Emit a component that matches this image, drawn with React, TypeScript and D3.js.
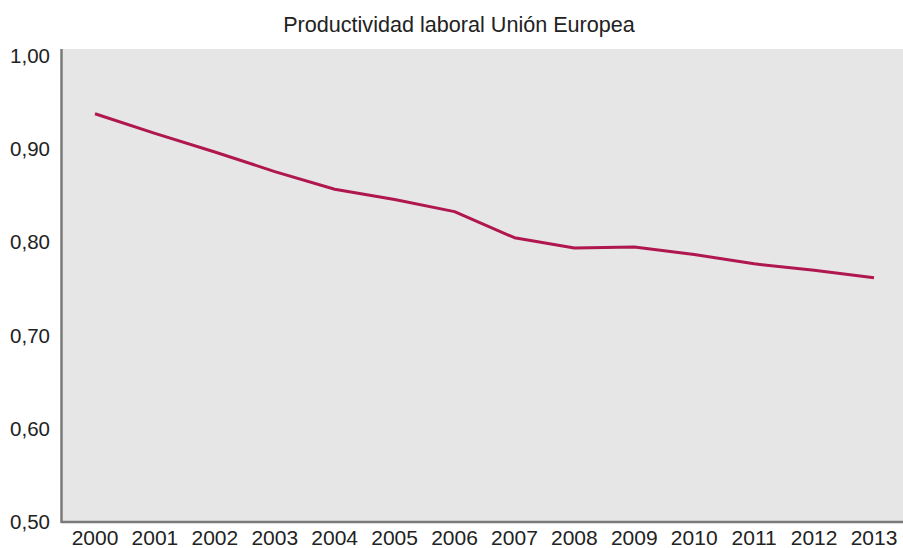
import React from "react";
import * as d3 from "d3";

const years = [2000, 2001, 2002, 2003, 2004, 2005, 2006, 2007, 2008, 2009, 2010, 2011, 2012, 2013];
const productivity = [0.938, 0.917, 0.897, 0.876, 0.857, 0.846, 0.833, 0.805, 0.794, 0.795, 0.787, 0.777, 0.770, 0.762];
const yTicks = [0.5, 0.6, 0.7, 0.8, 0.9, 1.0];
const title = "Productividad laboral Unión Europea";

export default function App() {
  const W = 903, H = 548;
  const plotLeft = 62, plotRight = 903, plotTop = 49, plotBottom = 522;
  const x = d3.scaleLinear().domain([2000, 2013]).range([95, 874]);
  const y = d3.scaleLinear().domain([0.5, 1.0]).range([522, 56]);
  const line = d3.line<number>().x((_, i) => x(years[i])).y((d) => y(d));
  const font = "Liberation Sans, Arial, sans-serif";
  return (
    <svg width={W} height={H} style={{ position: "absolute", left: 0, top: 0, background: "#fff" }}>
      <rect x={plotLeft} y={plotTop} width={plotRight - plotLeft} height={plotBottom - plotTop} fill="#e6e6e6" />
      <text x={459} y={31.5} textAnchor="middle" fontFamily={font} fontSize={21.6} fill="#222">{title}</text>
      <path d={line(productivity) || ""} fill="none" stroke="#b0174e" strokeWidth={3} strokeLinejoin="round" />
      <line x1={61.5} x2={61.5} y1={plotTop} y2={plotBottom + 1} stroke="#7a7a7a" strokeWidth={2.5} />
      <line x1={61} x2={plotRight} y1={plotBottom} y2={plotBottom} stroke="#7a7a7a" strokeWidth={2.5} />
      {yTicks.map((t) => (
        <text key={t} x={50} y={y(t) + 7} textAnchor="end" fontFamily={font} fontSize={20.5} fill="#222">
          {t.toFixed(2).replace(".", ",")}
        </text>
      ))}
      {years.map((yr) => (
        <text key={yr} x={x(yr)} y={545} textAnchor="middle" fontFamily={font} fontSize={21} fill="#222">
          {yr}
        </text>
      ))}
    </svg>
  );
}
